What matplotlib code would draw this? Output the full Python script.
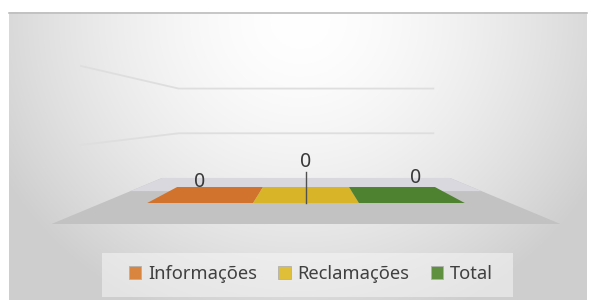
import numpy as np
import matplotlib.pyplot as plt
from matplotlib.patches import Polygon, Patch, Rectangle

# dados do grafico
categorias = ['Informações', 'Reclamações', 'Total']
valores = [0, 0, 0]
cores = ['#d2732d', '#d8b428', '#4f8230']
cores_legenda = ['#d98540', '#dfbf38', '#5e9040']
grade = [0.5, 1.0]  # linhas de grade do eixo de valores (0 a 1)

plt.rcParams['font.family'] = ['Noto Sans', 'DejaVu Sans']

# projecao em perspectiva simples (coordenadas em pixels)
CX, YF, YV = 306, 224, 118   # centro, frente do piso, ponto de fuga
LARG = 132                   # largura de cada barra
ALT = 158                    # altura de 1 unidade no eixo de valores
Z_BARRA = (0.247, 0.536)     # profundidade das barras
Z_FUNDO = 0.767              # parede do fundo
PISO = 254.5                 # meia largura do piso
PAREDE = 225                 # meia largura das paredes


def proj(x, z, h=0.0):
    s = 1 / (1 + z)
    return CX + x * s, YV + (YF - YV) * s - h * ALT * s


fig = plt.figure(figsize=(5.94, 3.0), dpi=100)
ax = fig.add_axes([0, 0, 1, 1])
ax.set_xlim(0, 594)
ax.set_ylim(300, 0)
ax.axis('off')

# fundo com gradiente radial
yy, xx = np.mgrid[12:300, 9:587]
d = np.sqrt(((xx - 300) / 340.0) ** 2 + ((yy - 20) / 320.0) ** 2)
v = 1.0 - 0.19 * np.clip(d, 0, 1) ** 1.6
ax.imshow(np.dstack([v, v, v]), extent=(9, 587, 300, 12), zorder=0,
          interpolation='bilinear', aspect='auto')
ax.plot([9, 587], [12.5, 12.5], color='#bdbdbd', lw=1.2, zorder=1)

# linhas de grade (parede lateral e do fundo)
for g in grade:
    pts = [proj(-PAREDE, 0, g), proj(-PAREDE, Z_FUNDO, g), proj(PAREDE, Z_FUNDO, g)]
    ax.plot([p[0] for p in pts], [p[1] for p in pts], color='#dedede', lw=1.3, zorder=1)

# piso
piso = [proj(-PISO, 0), proj(PISO, 0), proj(PISO, Z_FUNDO), proj(-PISO, Z_FUNDO)]
ax.add_patch(Polygon(piso, closed=True, facecolor='#c2c2c2', edgecolor='none', zorder=2))
borda = [proj(-PISO, 0.45), proj(PISO, 0.45), proj(PISO, Z_FUNDO), proj(-PISO, Z_FUNDO)]
ax.add_patch(Polygon(borda, closed=True, facecolor='#d8d8de', edgecolor='none', zorder=2))

# barras 3D (valores zero => apenas a face superior)
for i, (val, cor) in enumerate(zip(valores, cores)):
    x0 = (i - 1) * LARG - LARG / 2
    x1 = x0 + LARG
    z0, z1 = Z_BARRA
    frente = [proj(x0, z0, 0), proj(x1, z0, 0), proj(x1, z0, val), proj(x0, z0, val)]
    topo = [proj(x0, z0, val), proj(x1, z0, val), proj(x1, z1, val), proj(x0, z1, val)]
    ax.add_patch(Polygon(frente, closed=True, facecolor=cor, edgecolor='none', zorder=3))
    ax.add_patch(Polygon(topo, closed=True, facecolor=cor, edgecolor='none', zorder=3))

# rotulos de dados
desloc = [(-1, -21), (0, -41), (4, -25)]
for i, val in enumerate(valores):
    bx, by = proj((i - 1) * LARG, Z_BARRA[0], val)
    tx, ty = bx + desloc[i][0], by + desloc[i][1]
    ax.text(tx, ty, f'{val:g}', ha='center', va='center', fontsize=14,
            color='#383838', zorder=5)
    if i == 1:
        ax.plot([bx, bx], [ty + 10, by], color='#505050', lw=1.0, zorder=4)

# caixa da legenda
ax.add_patch(Rectangle((102, 253), 411, 44, facecolor='#f6f6f6', alpha=0.55,
                       edgecolor='none', zorder=4))

# legenda
alcas = [Patch(facecolor=c, edgecolor='#b0b0b0', lw=0.6) for c in cores_legenda]
leg = fig.legend(alcas, categorias, loc='center', bbox_to_anchor=(311 / 594, 1 - 274 / 300),
                 ncol=3, fontsize=13.2, frameon=False, handlelength=0.66, handleheight=0.66,
                 handletextpad=0.38, columnspacing=1.15)
for t in leg.get_texts():
    t.set_color('#404040')

fig.savefig('out.png', dpi=100)
